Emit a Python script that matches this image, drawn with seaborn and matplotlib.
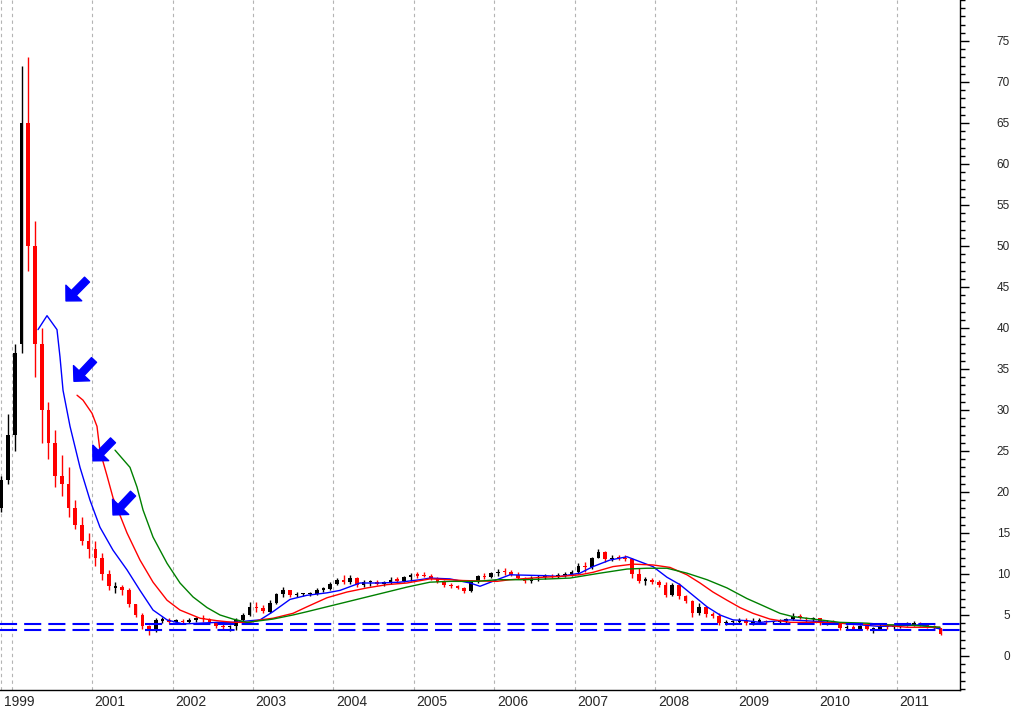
import numpy as np
import pandas as pd
import matplotlib
matplotlib.use("Agg")
import matplotlib.pyplot as plt
import matplotlib.transforms as mtransforms
from matplotlib.patches import FancyArrowPatch
from matplotlib.ticker import MultipleLocator
import seaborn as sns

# monthly candles, Nov 1999 - Jul 2011
months = pd.date_range("1999-11-01", "2011-07-01", freq="MS")

opens = [18.0, 21.5, 27.0, 38.0, 65.0, 50.0, 38.0, 30.0, 26.0, 22.0, 21.0, 18.0,
         16.0, 14.0, 13.0, 12.0, 10.0, 8.3, 8.4, 8.0, 6.3, 5.0, 3.6, 3.0,
         4.3, 4.4, 4.2, 4.2, 4.1, 4.4, 4.6, 4.5, 4.1, 3.6, 3.5, 3.6,
         4.4, 5.0, 6.0, 5.8, 5.4, 6.5, 7.5, 8.0, 7.4, 7.5, 7.5, 7.6,
         8.1, 8.2, 8.8, 9.3, 9.0, 9.5, 8.7, 9.0, 9.0, 8.8, 9.0, 9.3,
         9.2, 9.6, 9.9, 9.8, 9.7, 9.4, 9.0, 8.6, 8.5, 8.3, 7.9, 9.0,
         9.7, 9.6, 10.1, 10.3, 10.2, 9.9, 9.5, 9.2, 9.5, 9.6, 9.7, 9.6,
         9.9, 10.0, 10.2, 11.0, 10.8, 12.0, 12.7, 11.8, 12.0, 11.9, 11.8, 10.0,
         9.2, 9.3, 9.0, 8.6, 7.4, 8.6, 7.3, 6.7, 5.2, 6.0, 5.1, 4.9,
         4.0, 4.1, 4.2, 4.3, 4.0, 4.2, 4.3, 4.1, 4.2, 4.3, 4.5, 4.9,
         4.6, 4.5, 4.6, 4.0, 4.1, 4.0, 3.4, 3.5, 3.3, 3.6, 3.3, 3.3,
         3.7, 3.5, 3.6, 3.8, 3.8, 4.0, 3.8, 3.6, 3.4]
highs = [22.0, 29.5, 38.0, 72.0, 73.0, 53.0, 40.0, 31.0, 27.5, 24.5, 23.0, 19.0,
         17.0, 15.0, 14.0, 12.5, 10.5, 9.0, 8.7, 8.3, 6.3, 5.2, 3.8, 4.6,
         4.7, 4.6, 4.5, 4.5, 4.6, 4.8, 5.0, 4.6, 4.2, 3.9, 3.8, 4.6,
         5.2, 6.6, 6.6, 6.2, 6.8, 7.7, 8.4, 8.0, 7.8, 7.7, 7.8, 8.3,
         8.4, 9.0, 9.5, 9.9, 9.9, 9.6, 9.3, 9.3, 9.3, 9.2, 9.6, 9.6,
         9.8, 10.1, 10.2, 10.2, 10.0, 9.6, 9.3, 8.9, 8.7, 8.4, 9.3, 9.9,
         10.1, 10.3, 10.6, 10.7, 10.5, 10.2, 9.6, 9.8, 9.9, 10.0, 10.0, 10.1,
         10.2, 10.5, 11.3, 11.4, 12.1, 13.0, 12.8, 12.3, 12.3, 12.3, 12.0, 10.7,
         9.6, 9.5, 9.3, 9.0, 8.9, 8.9, 7.4, 6.8, 6.5, 6.0, 5.4, 5.2,
         4.4, 4.4, 4.6, 4.6, 4.6, 4.6, 4.4, 4.3, 4.5, 4.6, 5.2, 5.1,
         4.8, 4.8, 4.6, 4.4, 4.4, 4.0, 3.8, 3.8, 3.8, 3.7, 3.5, 3.9,
         3.9, 3.8, 3.9, 4.2, 4.3, 4.2, 3.9, 3.8, 3.4]
lows = [17.5, 21.0, 25.0, 37.0, 47.0, 34.0, 26.0, 24.0, 20.6, 19.5, 17.0, 15.5,
        13.5, 12.0, 11.0, 9.3, 8.0, 7.7, 7.4, 6.0, 4.8, 3.3, 2.5, 2.9,
        4.0, 4.0, 4.0, 3.9, 4.0, 4.1, 4.2, 4.0, 3.4, 3.2, 3.1, 3.2,
        4.1, 4.9, 5.4, 5.2, 5.2, 6.3, 7.2, 7.2, 7.2, 7.3, 7.3, 7.4,
        7.8, 8.1, 8.6, 8.8, 8.8, 8.4, 8.4, 8.5, 8.6, 8.5, 8.8, 8.9,
        9.0, 9.2, 9.5, 9.6, 9.3, 8.9, 8.4, 8.3, 8.2, 7.7, 7.8, 8.9,
        9.4, 9.5, 9.8, 9.9, 9.7, 9.4, 8.9, 8.9, 9.1, 9.4, 9.5, 9.5,
        9.6, 9.8, 10.0, 10.2, 10.6, 11.9, 11.5, 11.6, 11.7, 11.6, 9.5, 8.9,
        8.7, 8.8, 8.4, 7.2, 7.3, 7.0, 6.5, 4.8, 5.0, 4.8, 4.6, 3.8,
        3.8, 3.8, 3.9, 3.8, 3.8, 3.9, 3.9, 3.9, 3.9, 4.0, 4.4, 4.5,
        4.2, 4.2, 3.8, 3.8, 3.9, 3.2, 3.2, 3.2, 3.2, 3.2, 2.8, 3.2,
        3.3, 3.3, 3.4, 3.7, 3.7, 3.6, 3.4, 3.3, 2.6]
closes = [21.5, 27.0, 37.0, 65.0, 50.0, 38.0, 30.0, 26.0, 22.0, 21.0, 18.0, 16.0,
          14.0, 13.0, 12.0, 10.0, 8.5, 8.5, 8.0, 6.3, 5.0, 3.6, 3.0, 4.4,
          4.4, 4.2, 4.2, 4.1, 4.4, 4.6, 4.5, 4.1, 3.6, 3.5, 3.6, 4.4,
          5.0, 6.0, 5.8, 5.5, 6.5, 7.5, 8.0, 7.4, 7.5, 7.5, 7.6, 8.1,
          8.2, 8.8, 9.3, 9.0, 9.5, 8.7, 9.0, 9.0, 8.8, 9.0, 9.3, 9.2,
          9.6, 9.9, 9.8, 9.7, 9.4, 9.0, 8.6, 8.5, 8.3, 7.9, 9.0, 9.7,
          9.6, 10.1, 10.3, 10.2, 9.9, 9.5, 9.2, 9.5, 9.6, 9.7, 9.6, 9.9,
          10.0, 10.2, 11.0, 10.8, 12.0, 12.7, 11.8, 12.0, 11.9, 11.8, 10.0, 9.2,
          9.3, 9.0, 8.6, 7.4, 8.6, 7.3, 6.7, 5.2, 6.0, 5.1, 4.9, 4.0,
          4.1, 4.2, 4.3, 4.0, 4.2, 4.3, 4.1, 4.2, 4.3, 4.5, 4.9, 4.6,
          4.5, 4.6, 4.0, 4.1, 4.0, 3.4, 3.5, 3.3, 3.6, 3.3, 3.3, 3.7,
          3.5, 3.6, 3.8, 3.8, 4.0, 3.8, 3.6, 3.4, 2.7]

# moving averages (fractional year, price)
blue_ma_year = [2000.329, 2000.441, 2000.565, 2000.602, 2000.640, 2000.727, 2000.851,
                2000.975, 2001.099, 2001.261, 2001.435, 2001.596, 2001.758, 2001.932,
                2002.130, 2002.342, 2002.553, 2002.752, 2002.963, 2003.087, 2003.248,
                2003.460, 2003.671, 2003.919, 2004.081, 2004.329, 2004.578, 2004.826,
                2005.075, 2005.199, 2005.447, 2005.696, 2005.820, 2006.031, 2006.193,
                2006.602, 2006.814, 2007.062, 2007.224, 2007.435, 2007.646, 2007.807,
                2007.969, 2008.143, 2008.304, 2008.466, 2008.640, 2008.801, 2008.963,
                2009.137, 2009.298, 2009.671, 2010.043, 2010.416, 2010.789, 2011.037,
                2011.286, 2011.534]
blue_ma_val = [39.8, 41.5, 39.8, 36.5, 32.4, 28.0, 23.0,
               19.0, 15.7, 12.9, 10.5, 8.0, 5.6, 4.4,
               3.9, 4.0, 4.1, 4.1, 4.3, 4.4, 5.4,
               6.9, 7.4, 7.7, 8.0, 8.9, 8.9, 9.0,
               9.3, 9.5, 9.4, 8.9, 8.5, 9.3, 9.9,
               9.8, 9.7, 10.1, 10.9, 11.7, 12.1, 11.5,
               10.9, 9.6, 8.7, 7.4, 6.0, 5.0, 4.4,
               4.3, 4.1, 4.4, 4.2, 3.9, 3.6, 3.7,
               3.8, 3.3]
red_ma_year = [2000.814, 2000.888, 2001.000, 2001.062, 2001.099, 2001.186, 2001.261,
               2001.435, 2001.596, 2001.758, 2001.932, 2002.093, 2002.342, 2002.553,
               2002.752, 2002.963, 2003.087, 2003.248, 2003.497, 2003.671, 2003.919,
               2004.168, 2004.416, 2004.665, 2004.913, 2005.199, 2005.447, 2005.609,
               2006.031, 2006.193, 2006.602, 2006.814, 2007.062, 2007.224, 2007.472,
               2007.720, 2007.969, 2008.180, 2008.391, 2008.553, 2008.714, 2008.888,
               2009.050, 2009.211, 2009.422, 2009.671, 2010.043, 2010.292, 2010.789,
               2011.124, 2011.534]
red_ma_val = [31.8, 31.2, 29.6, 28.0, 25.0, 22.0, 19.3,
              15.0, 11.7, 9.0, 6.8, 5.6, 4.6, 4.3,
              4.1, 4.1, 4.4, 4.6, 5.2, 6.0, 7.1,
              7.8, 8.3, 8.7, 8.9, 9.4, 9.3, 9.2,
              9.1, 9.3, 9.6, 9.7, 9.9, 10.2, 10.9,
              11.2, 11.1, 10.8, 9.9, 8.9, 7.8, 6.8,
              5.9, 5.2, 4.5, 4.1, 4.1, 4.0, 3.8,
              3.5, 3.5]
green_ma_year = [2001.286, 2001.472, 2001.559, 2001.634, 2001.758, 2001.932, 2002.093,
                 2002.255, 2002.429, 2002.590, 2002.752, 2002.925, 2003.087, 2003.248,
                 2003.497, 2003.671, 2003.919, 2004.168, 2004.416, 2004.665, 2004.913,
                 2005.199, 2005.447, 2005.783, 2006.031, 2006.354, 2006.689, 2006.938,
                 2007.186, 2007.311, 2007.646, 2007.894, 2008.143, 2008.391, 2008.640,
                 2008.888, 2009.137, 2009.298, 2009.547, 2009.708, 2010.043, 2010.292,
                 2010.627, 2010.876, 2011.124, 2011.534]
green_ma_val = [25.1, 23.0, 20.6, 17.8, 14.5, 11.3, 8.9,
                7.2, 5.9, 5.0, 4.5, 4.1, 4.3, 4.5,
                5.0, 5.4, 6.0, 6.6, 7.2, 7.8, 8.4,
                9.0, 9.1, 9.1, 9.3, 9.3, 9.4, 9.5,
                9.9, 10.1, 10.6, 10.7, 10.7, 10.1, 9.3,
                8.3, 7.0, 6.3, 5.2, 4.8, 4.4, 4.1,
                4.0, 3.8, 3.8, 3.5]

support_levels = [3.87, 3.13]
year_labels = ["1999", "2001", "2002", "2003", "2004", "2005", "2006",
               "2007", "2008", "2009", "2010", "2011"]

sns.set_style("white")
plt.rcParams["font.family"] = ["Liberation Sans", "DejaVu Sans"]

fig = plt.figure(figsize=(10.18, 7.11), dpi=100)
ax = fig.add_axes([0, 21 / 711, 960 / 1018, 690 / 711])

x = months.year + (months.month - 1) / 12 + 1 / 24
o = np.array(opens); h = np.array(highs); l = np.array(lows); c = np.array(closes)
cols = np.where(c >= o, "#000000", "#ff0000")
ax.vlines(x, l, h, colors=cols, lw=1, zorder=2)
body = np.maximum(np.abs(c - o), 0.15)
ax.bar(x, body, bottom=np.minimum(o, c), width=0.045, color=cols, linewidth=0, zorder=2)

sns.lineplot(x=blue_ma_year, y=blue_ma_val, color="#0000ff", lw=1, ax=ax, zorder=3)
sns.lineplot(x=red_ma_year, y=red_ma_val, color="#ff0000", lw=1, ax=ax, zorder=3)
sns.lineplot(x=green_ma_year, y=green_ma_val, color="#008000", lw=1, ax=ax, zorder=3)

for lvl in support_levels:
    ax.axhline(lvl, color="#0000ff", lw=1.5, linestyle=(0, (8.2, 3.4)), zorder=4)

# arrows pointing at the moving averages
arrows = [((2000.938, 45.9), (2000.677, 43.3)),
          ((2001.025, 36.1), (2000.776, 33.5)),
          ((2001.261, 26.3), (2001.012, 23.8)),
          ((2001.510, 19.8), (2001.261, 17.2))]
for tail, tip in arrows:
    ax.add_patch(FancyArrowPatch(tail, tip, arrowstyle="simple,head_width=1.6,head_length=0.8,tail_width=0.5",
                                 mutation_scale=10, color="#0000ff", shrinkA=0, shrinkB=0, zorder=5))

ax.set_xlim(1999.857, 2011.783)
ax.set_ylim(-4.15, 80.0)

first = x[0]
bounds = [first] + list(range(2000, 2012))
ax.set_xticks(bounds)
ax.tick_params(axis="x", length=15.1, width=1, direction="out", labelbottom=False, color="black")
ax.grid(axis="x", color="#b4b4b4", linestyle=(0, (3, 3)), lw=0.8)
ax.grid(axis="y", visible=False)

ax.yaxis.tick_right()
ax.set_yticks(range(0, 80, 5))
ax.yaxis.set_minor_locator(MultipleLocator(1))
ax.tick_params(axis="y", which="major", length=6.5, width=1, direction="out", pad=29.5,
               labelsize=8.5, color="black")
ax.tick_params(axis="y", which="minor", length=3.5, width=1, direction="out", color="black")
for lab in ax.get_yticklabels():
    lab.set_horizontalalignment("right")

for side in ["left", "top"]:
    ax.spines[side].set_visible(False)
for side in ["right", "bottom"]:
    ax.spines[side].set_color("black")
    ax.spines[side].set_linewidth(1)

trans = mtransforms.blended_transform_factory(ax.transData, fig.transFigure)
label_pos = [first] + list(range(2001, 2012))
for pos, txt in zip(label_pos, year_labels):
    ax.text(pos + 2.5 / 80.5, 8.5 / 711, txt, transform=trans, ha="left", va="center",
            fontsize=10, clip_on=False)

ax.set_xlabel("")
ax.set_ylabel("")
fig.savefig("out.png", dpi=100, facecolor="white")
